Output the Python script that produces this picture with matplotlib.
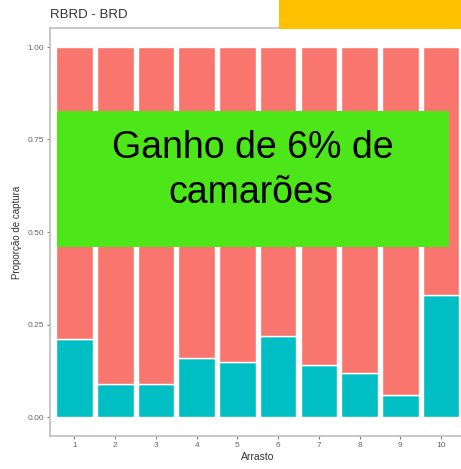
import numpy as np
import matplotlib.pyplot as plt
from matplotlib.patches import Rectangle

plt.rcParams['font.family'] = ['Liberation Sans', 'DejaVu Sans']

# proporção de captura por arrasto (fração azul = RBRD)
arrasto = np.arange(1, 11)
prop_rbrd = [0.21, 0.09, 0.09, 0.16, 0.15, 0.22, 0.14, 0.12, 0.06, 0.33]
prop_brd = [1 - p for p in prop_rbrd]
yticks = [0.00, 0.25, 0.50, 0.75, 1.00]
titulo = "RBRD - BRD"
destaque = ["Ganho de 6% de", "camarões"]

W, H = 461, 469
fig = plt.figure(figsize=(W / 100, H / 100), dpi=100)

# painel estende além da borda direita
ax = fig.add_axes([50 / W, 1 - 435.5 / H, 415.5 / W, 407 / H])
ax.bar(arrasto, prop_rbrd, width=0.9, color="#00BFC4", edgecolor="white", linewidth=1)
ax.bar(arrasto, prop_brd, bottom=prop_rbrd, width=0.9, color="#F8766D",
       edgecolor="white", linewidth=1)
ax.set_xlim(0.4, 10.6)
ax.set_ylim(-0.05, 1.05)
ax.set_xticks(arrasto)
ax.set_yticks(yticks)
ax.set_yticklabels([f"{v:.2f}" for v in yticks])
ax.tick_params(colors="#7f7f7f", labelcolor="#666666", labelsize=6, length=2.5, width=0.8, pad=2)
for s in ax.spines.values():
    s.set_color("#bdbdbd")
    s.set_linewidth(1.2)
ax.set_xlabel("Arrasto", fontsize=7.5, color="#333333", labelpad=2)
ax.set_ylabel("Proporção de captura", fontsize=7, color="#333333", labelpad=4)
fig.text(50 / W, 1 - 15 / H, titulo, fontsize=9.5, color="#333333", va="center", ha="left")

# retângulo laranja no canto superior
fig.add_artist(Rectangle((279 / W, 1 - 29 / H), (W - 279) / W, 29 / H,
                         transform=fig.transFigure, facecolor="#FFC000", edgecolor="none"))

# caixa verde com o texto
fig.add_artist(Rectangle((57 / W, 1 - 247 / H), 392 / W, 136 / H,
                         transform=fig.transFigure, facecolor="#4CE619", edgecolor="none"))
fig.text(252.5 / W, 1 - 158 / H, destaque[0], fontsize=27, ha="center", va="baseline", color="black")
fig.text(250.5 / W, 1 - 203 / H, destaque[1], fontsize=27, ha="center", va="baseline", color="black")

fig.savefig("out.png", dpi=100)
